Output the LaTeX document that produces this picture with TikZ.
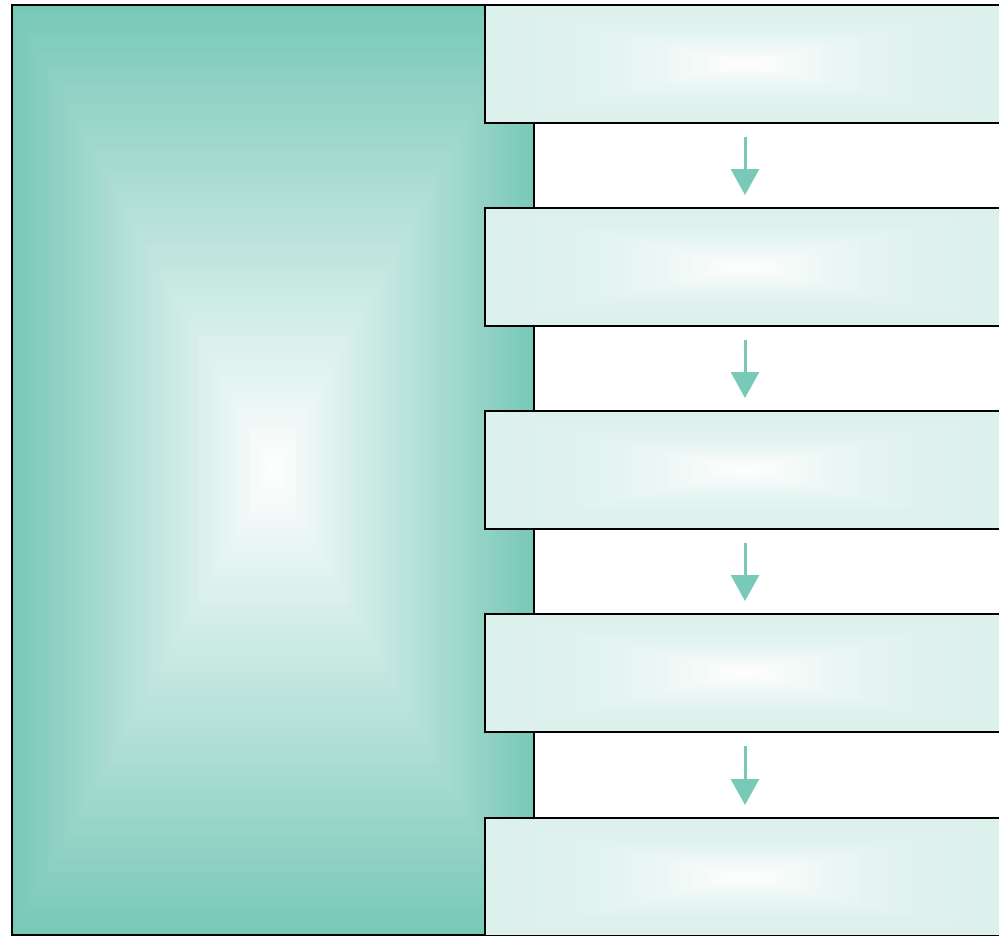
\documentclass[tikz,border=0pt]{standalone}
\usetikzlibrary{arrows.meta}
\definecolor{panelteal}{HTML}{78C8B8}
\definecolor{boxpale}{HTML}{DCF0EC}
\definecolor{arrowteal}{HTML}{79C9B9}
% Rectangular (pyramid) shading: nested rectangles from the edge colour to white.
% #1,#2 = top-left corner, #3,#4 = bottom-right corner, #5 = edge colour,
% #6 = steps, #7 = exponent shaping how fast the colour fades
\newcommand\pyrshade[7]{%
  \foreach \i in {0,...,#6}{%
    \pgfmathsetmacro\tt{\i/#6}%
    \pgfmathtruncatemacro\pc{100*(1-\tt^(#7))}%
    \pgfmathsetmacro\xa{(#1)+\tt*(((#3)-(#1))/2)}%
    \pgfmathsetmacro\ya{(#2)+\tt*(((#4)-(#2))/2)}%
    \pgfmathsetmacro\xb{(#3)-\tt*(((#3)-(#1))/2)}%
    \pgfmathsetmacro\yb{(#4)-\tt*(((#4)-(#2))/2)}%
    \fill[#5!\pc!white] (\xa,\ya) rectangle (\xb,\yb);
  }%
}
\begin{document}
\begin{tikzpicture}[x=0.75pt,y=-0.75pt,
  outline/.style={draw=black, line width=1.5pt},
  stagebox/.style={outline, minimum width=390pt, minimum height=88.5pt, inner sep=0pt},
  flowarrow/.style={draw=arrowteal, line width=2.25pt,
    -{Triangle[width=21pt,length=19.5pt]}, shorten <=9.75pt, shorten >=9pt}]
\useasboundingbox (0,0) rectangle (999,935);
\clip (0,0) rectangle (999,935);
\fill[white] (0,0) rectangle (999,935);

% large shaded panel on the left
\pyrshade{12}{5}{534}{935}{panelteal}{80}{1}
\node[outline, minimum width=391.5pt, minimum height=697.5pt, inner sep=0pt] (panel) at (273,470) {};

% five stacked stage boxes
\foreach \n/\y in {1/64,2/267,3/470,4/673,5/877}{
  \pyrshade{485}{\y-59}{1005}{\y+59}{boxpale}{60}{2}
  \node[stagebox] (b\n) at (745,\y) {};
}

% arrows between consecutive boxes
\draw[flowarrow] (b1.south) -- (b2.north);
\draw[flowarrow] (b2.south) -- (b3.north);
\draw[flowarrow] (b3.south) -- (b4.north);
\draw[flowarrow] (b4.south) -- (b5.north);
\end{tikzpicture}
\end{document}
